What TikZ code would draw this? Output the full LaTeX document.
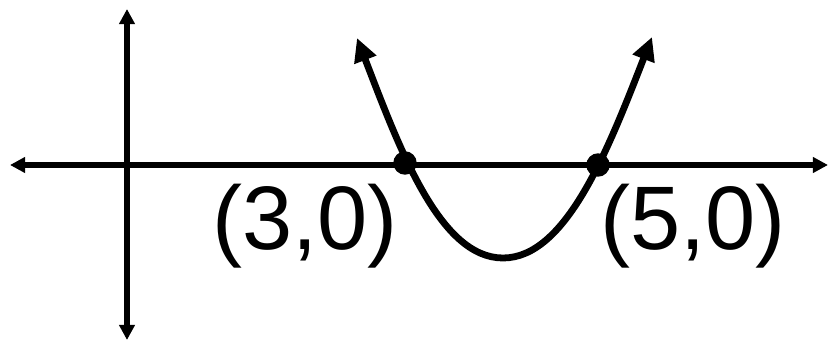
\documentclass[tikz,border=0pt]{standalone}
\usepackage{fontspec}
\setmainfont{Liberation Sans}
\usetikzlibrary{arrows.meta}
\begin{document}
\begin{tikzpicture}[x=0.03cm,y=-0.03cm,
  axis/.style={line width=4.3pt,{Triangle[length=13pt,width=13pt]}-{Triangle[length=13pt,width=13pt]}},
  curve/.style={line width=5.8pt,{Triangle[length=20pt,width=19pt]}-{Triangle[length=20pt,width=19pt]}},
  dot/.style={circle,fill=black,inner sep=0pt,minimum size=20pt},
  lab/.style={inner sep=0pt,anchor=base west,font=\fontsize{77pt}{80pt}\selectfont}]
\useasboundingbox (0,0) rectangle (830,342);
\coordinate (xl) at (10,165);
\coordinate (xr) at (828,165);
\coordinate (yt) at (127,9);
\coordinate (yb) at (127,340);
\coordinate (ct) at (357,38);
\coordinate (cb) at (503,258);
\coordinate (cr) at (652,37);
\draw[axis] (xl) -- (xr);
\draw[axis] (yt) -- (yb);
\draw[curve] (ct) .. controls (400,150) and (440,258) .. (cb)
  .. controls (566,258) and (608,150) .. (cr);
\node[dot] (p3) at (405,163) {};
\node[dot] (p5) at (598,165) {};
\node[lab] (l3) at (212,250) {(3,0)};
\node[lab] (l5) at (600,250) {(5,0)};
\end{tikzpicture}
\end{document}
